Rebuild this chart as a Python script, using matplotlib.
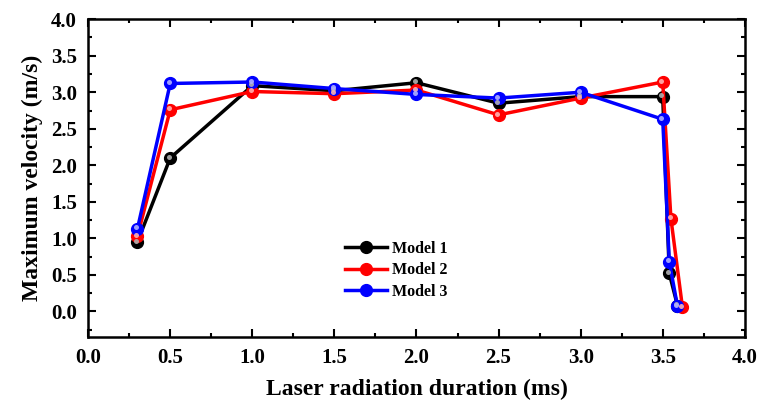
import matplotlib
matplotlib.use("Agg")
import matplotlib.pyplot as plt
from matplotlib import transforms
from matplotlib.ticker import MultipleLocator

# Data
x_model1 = [0.3, 0.5, 1.0, 1.5, 2.0, 2.5, 3.0, 3.5, 3.54, 3.59]
y_model1 = [0.95, 2.10, 3.09, 3.02, 3.13, 2.85, 2.94, 2.94, 0.52, 0.08]
x_model2 = [0.3, 0.5, 1.0, 1.5, 2.0, 2.5, 3.0, 3.5, 3.55, 3.62]
y_model2 = [1.03, 2.76, 3.01, 2.98, 3.03, 2.69, 2.92, 3.14, 1.27, 0.06]
x_model3 = [0.3, 0.5, 1.0, 1.5, 2.0, 2.5, 3.0, 3.5, 3.54, 3.59]
y_model3 = [1.13, 3.12, 3.14, 3.05, 2.97, 2.92, 3.00, 2.63, 0.68, 0.07]
labels = ["Model 1", "Model 2", "Model 3"]
colors = ["black", "red", "blue"]
highlights = ["#b0b0b0", "#ffb0b0", "#b0b0ff"]

plt.rcParams['font.family'] = ['Liberation Serif', 'DejaVu Serif']
plt.rcParams['font.weight'] = 'bold'

fig = plt.figure(figsize=(7.6, 4.08), dpi=100)
ax = fig.add_axes([0.116, 0.174, 0.864, 0.779])

series = [(x_model1, y_model1), (x_model2, y_model2), (x_model3, y_model3)]
hl_trans = transforms.offset_copy(ax.transData, fig=fig, x=-1.0, y=1.0, units='points')
handles = []
for (xs, ys), lab, c, hc in zip(series, labels, colors, highlights):
    h, = ax.plot(xs, ys, '-', color=c, lw=2.5, marker='o', ms=8.5,
                 mfc=c, mec=c, label=lab, zorder=3)
    ax.plot(xs, ys, 'o', ms=3.6, mfc=hc, mec='none', alpha=0.9,
            transform=hl_trans, zorder=4)
    handles.append(h)

ax.set_xlim(0, 4.0)
ax.set_ylim(-0.35, 4.0)
ax.xaxis.set_major_locator(MultipleLocator(0.5))
ax.xaxis.set_minor_locator(MultipleLocator(0.25))
ax.yaxis.set_minor_locator(MultipleLocator(0.25))
ax.set_yticks([0, 0.5, 1.0, 1.5, 2.0, 2.5, 3.0, 3.5, 4.0])
ax.tick_params(which='both', direction='in', top=True, right=True, width=1.5)
ax.tick_params(which='major', length=6, labelsize=15, pad=8)
ax.tick_params(which='minor', length=3)
for lbl in ax.get_xticklabels() + ax.get_yticklabels():
    lbl.set_fontweight('bold')
for s in ax.spines.values():
    s.set_linewidth(1.8)

ax.set_xlabel("Laser radiation duration (ms)", fontsize=17, fontweight='bold', labelpad=8)
ax.set_ylabel("Maximum velocity (m/s)", fontsize=17, fontweight='bold', labelpad=6)

leg = ax.legend(handles=handles, loc='center left', bbox_to_anchor=(0.37, 0.21),
                frameon=False, prop={'size': 11.5, 'weight': 'bold'},
                handlelength=2.6, handletextpad=0.3, labelspacing=0.35)

fig.savefig("out.png", dpi=100, facecolor='white')
